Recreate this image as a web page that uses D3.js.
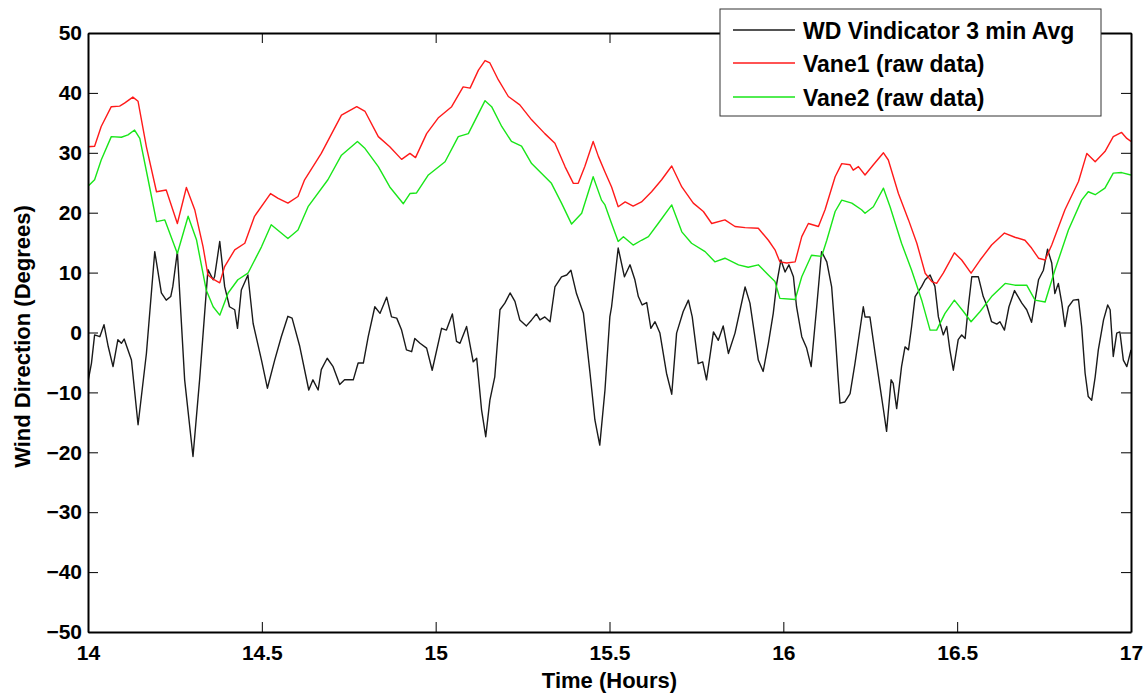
<!DOCTYPE html>
<html>
<head>
<meta charset="utf-8">
<script src="https://cdn.jsdelivr.net/npm/d3@7"></script>
<style>
  html, body { margin: 0; padding: 0; background: #fff; }
  svg { display: block; }
  text { font-family: "Liberation Sans", Arial, Helvetica, sans-serif; font-weight: bold; fill: #000; }
</style>
</head>
<body>
<svg id="chart" width="1146" height="694"></svg>
<script>
// ---------- data ----------
const xTicks = [14, 14.5, 15, 15.5, 16, 16.5, 17];
const xTickLabels = ["14", "14.5", "15", "15.5", "16", "16.5", "17"];
const yTicks = [50, 40, 30, 20, 10, 0, -10, -20, -30, -40, -50];
const yTickLabels = ["50", "40", "30", "20", "10", "0", "\u221210", "\u221220", "\u221230", "\u221240", "\u221250"];
const seriesNames = ["WD Vindicator 3 min Avg", "Vane1 (raw data)", "Vane2 (raw data)"];

// WD Vindicator 3 min Avg  [time (h), degrees]
const vindicator = [
[14.000,-8.2],[14.010,-5.1],[14.019,-0.4],[14.034,-0.7],[14.046,1.3],[14.058,-2.3],[14.072,-5.7],[14.086,-1.2],
[14.096,-1.8],[14.104,-1.1],[14.125,-4.6],[14.144,-15.4],[14.168,-3.5],[14.192,13.5],[14.211,6.6],[14.225,5.4],
[14.238,6.0],[14.244,7.7],[14.257,13.5],[14.278,-7.9],[14.302,-20.7],[14.321,-7.9],[14.345,10.5],[14.360,8.8],
[14.364,9.3],[14.379,15.2],[14.393,7.7],[14.407,4.3],[14.422,3.8],[14.430,0.7],[14.441,7.1],[14.460,9.6],
[14.475,1.5],[14.499,-4.6],[14.516,-9.3],[14.537,-4.6],[14.556,-0.7],[14.575,2.7],[14.587,2.4],[14.609,-2.3],
[14.635,-9.6],[14.647,-7.9],[14.662,-9.6],[14.671,-6.2],[14.688,-4.3],[14.705,-5.7],[14.724,-8.7],[14.738,-7.9],
[14.763,-7.9],[14.777,-5.1],[14.792,-5.1],[14.806,-0.7],[14.825,4.3],[14.840,3.2],[14.859,5.9],[14.873,2.6],
[14.888,2.4],[14.902,0.4],[14.916,-2.9],[14.931,-3.2],[14.940,-1.0],[14.955,-1.8],[14.974,-2.6],[14.990,-6.3],
[15.017,0.7],[15.031,0.4],[15.048,3.1],[15.060,-1.5],[15.070,-1.8],[15.089,1.0],[15.108,-4.9],[15.118,-4.3],
[15.132,-12.9],[15.144,-17.4],[15.156,-11.3],[15.170,-7.4],[15.185,3.8],[15.199,4.9],[15.214,6.6],[15.228,5.2],
[15.242,2.1],[15.261,1.1],[15.276,2.1],[15.290,3.1],[15.300,2.1],[15.314,2.6],[15.329,1.8],[15.343,7.6],
[15.362,9.3],[15.377,9.6],[15.389,10.4],[15.405,6.5],[15.425,3.2],[15.444,-6.8],[15.458,-14.6],[15.472,-18.8],
[15.487,-9.6],[15.501,2.6],[15.506,4.3],[15.525,14.1],[15.543,9.3],[15.559,11.3],[15.573,8.8],[15.583,6.0],
[15.594,4.6],[15.607,5.0],[15.619,0.7],[15.631,1.8],[15.645,-0.1],[15.664,-6.8],[15.679,-10.3],[15.693,-0.1],
[15.712,3.5],[15.727,5.4],[15.738,2.6],[15.755,-5.2],[15.768,-4.9],[15.779,-7.9],[15.799,0.1],[15.813,-1.3],
[15.827,1.1],[15.842,-3.5],[15.861,-0.1],[15.890,7.6],[15.904,4.9],[15.928,-4.6],[15.942,-6.5],[15.957,-1.8],
[15.971,3.2],[15.981,8.2],[15.993,12.1],[16.005,10.1],[16.016,11.3],[16.029,9.3],[16.038,4.3],[16.053,-0.7],
[16.067,-2.6],[16.080,-5.7],[16.096,4.3],[16.110,13.5],[16.125,11.8],[16.139,7.6],[16.149,-0.1],[16.158,-7.9],
[16.163,-11.8],[16.177,-11.6],[16.192,-10.2],[16.206,-5.2],[16.230,4.3],[16.235,2.6],[16.249,2.6],[16.264,-3.5],
[16.278,-9.0],[16.288,-12.9],[16.297,-16.5],[16.310,-7.9],[16.316,-8.5],[16.326,-12.7],[16.340,-5.7],[16.350,-2.4],
[16.360,-2.9],[16.369,1.0],[16.379,6.0],[16.398,7.7],[16.408,8.8],[16.422,9.6],[16.436,7.7],[16.446,2.6],
[16.460,-0.4],[16.470,1.0],[16.479,-2.9],[16.489,-6.3],[16.503,-1.2],[16.513,-0.4],[16.523,-1.0],[16.532,4.3],
[16.542,9.3],[16.561,9.3],[16.575,6.0],[16.585,4.6],[16.599,1.8],[16.614,1.4],[16.623,1.8],[16.636,0.4],
[16.649,4.3],[16.665,7.0],[16.686,4.9],[16.700,3.8],[16.714,1.7],[16.724,5.4],[16.734,8.8],[16.748,10.4],
[16.760,13.9],[16.772,11.6],[16.781,6.5],[16.791,8.2],[16.801,4.9],[16.810,1.0],[16.820,4.3],[16.834,5.4],
[16.849,5.5],[16.858,1.0],[16.868,-6.8],[16.877,-10.7],[16.887,-11.3],[16.897,-7.4],[16.906,-2.9],[16.921,2.1],
[16.933,4.6],[16.940,3.8],[16.949,-4.0],[16.959,-0.1],[16.968,0.1],[16.978,-4.6],[16.988,-5.7],[17.000,-2.9]
];

// Vane1 (raw data)
const vane1 = [
[14.000,31.0],[14.019,31.1],[14.038,34.4],[14.067,37.7],[14.091,37.8],[14.105,38.3],[14.129,39.3],[14.144,38.6],
[14.168,31.0],[14.197,23.5],[14.225,23.8],[14.257,18.2],[14.283,24.2],[14.307,20.5],[14.331,14.3],[14.345,9.6],
[14.360,8.9],[14.379,8.3],[14.393,11.0],[14.422,13.8],[14.451,14.9],[14.479,19.4],[14.525,23.2],[14.547,22.4],
[14.575,21.6],[14.604,22.7],[14.623,25.5],[14.671,29.9],[14.729,36.3],[14.773,37.7],[14.797,36.9],[14.835,32.7],
[14.868,31.0],[14.902,28.9],[14.926,29.9],[14.942,29.2],[14.974,33.2],[15.007,35.8],[15.046,37.7],[15.079,41.0],
[15.099,40.8],[15.123,43.8],[15.142,45.4],[15.156,45.0],[15.180,42.2],[15.209,39.4],[15.242,38.0],[15.276,35.5],
[15.314,33.2],[15.343,31.6],[15.372,27.7],[15.396,24.9],[15.410,24.9],[15.429,27.7],[15.453,31.9],[15.468,29.4],
[15.487,26.8],[15.506,24.3],[15.525,21.0],[15.545,21.8],[15.568,21.1],[15.592,21.8],[15.621,23.5],[15.650,25.5],
[15.679,27.8],[15.708,24.3],[15.741,21.6],[15.770,20.2],[15.794,18.2],[15.832,18.8],[15.861,17.7],[15.890,17.5],
[15.928,17.4],[15.957,15.4],[15.976,13.8],[15.990,11.8],[16.010,11.6],[16.034,11.8],[16.053,16.0],[16.072,18.2],
[16.101,17.7],[16.120,20.5],[16.149,26.0],[16.168,28.2],[16.192,28.0],[16.201,27.1],[16.216,27.7],[16.235,26.3],
[16.259,28.0],[16.288,30.0],[16.302,28.8],[16.331,23.2],[16.360,18.8],[16.384,14.9],[16.408,9.9],[16.427,8.5],
[16.441,8.2],[16.460,9.9],[16.492,13.3],[16.513,12.1],[16.540,9.9],[16.566,12.1],[16.599,14.6],[16.636,16.6],
[16.666,15.9],[16.695,15.4],[16.714,14.1],[16.734,12.4],[16.753,12.1],[16.772,14.6],[16.810,20.5],[16.849,25.2],
[16.873,29.9],[16.897,28.5],[16.925,30.2],[16.949,32.7],[16.973,33.4],[16.988,32.4],[17.000,31.9]
];

// Vane2 (raw data)
const vane2 = [
[14.000,24.4],[14.019,25.5],[14.038,28.8],[14.067,32.7],[14.096,32.6],[14.115,33.0],[14.134,33.8],[14.149,32.4],
[14.173,25.5],[14.197,18.5],[14.221,18.8],[14.257,13.2],[14.288,19.4],[14.312,15.5],[14.340,7.1],[14.360,4.3],
[14.379,2.9],[14.403,6.6],[14.431,8.8],[14.460,9.9],[14.499,14.3],[14.527,18.0],[14.575,15.7],[14.604,17.1],
[14.633,21.0],[14.690,25.5],[14.729,29.6],[14.775,31.9],[14.797,30.7],[14.835,27.7],[14.868,24.3],[14.907,21.5],
[14.926,23.2],[14.945,23.3],[14.979,26.3],[15.027,28.5],[15.065,32.7],[15.094,33.2],[15.142,38.7],[15.161,37.7],
[15.190,34.4],[15.218,31.9],[15.247,31.1],[15.276,28.2],[15.333,24.9],[15.362,21.6],[15.391,18.1],[15.420,19.9],
[15.453,26.0],[15.477,22.1],[15.487,21.3],[15.506,18.2],[15.525,15.2],[15.540,16.0],[15.568,14.6],[15.592,15.4],
[15.612,16.0],[15.640,18.2],[15.679,21.3],[15.708,16.8],[15.736,14.9],[15.775,13.5],[15.803,11.8],[15.832,12.4],
[15.871,11.3],[15.899,10.9],[15.928,11.3],[15.957,9.6],[15.976,8.5],[15.990,5.7],[16.034,5.5],[16.053,9.3],
[16.081,12.9],[16.110,12.7],[16.125,15.4],[16.149,20.2],[16.168,22.1],[16.197,21.6],[16.225,20.5],[16.235,19.9],
[16.259,21.0],[16.288,24.1],[16.307,21.0],[16.340,14.9],[16.369,10.4],[16.398,5.4],[16.422,0.4],[16.441,0.4],
[16.465,3.2],[16.492,5.4],[16.518,3.5],[16.540,1.8],[16.566,3.5],[16.599,6.0],[16.638,8.2],[16.666,7.9],
[16.700,7.9],[16.724,5.4],[16.753,5.1],[16.781,10.4],[16.820,17.1],[16.858,22.1],[16.877,23.5],[16.897,23.0],
[16.925,24.1],[16.949,26.6],[16.973,26.7],[17.000,26.3]
];

// ---------- layout ----------
const svg = d3.select("#chart");
const plot = { left: 88, right: 1131, top: 33, bottom: 632 };
const x = d3.scaleLinear().domain([14, 17]).range([plot.left, plot.right]);
const y = d3.scaleLinear().domain([-50, 50]).range([plot.bottom, plot.top]);
const colors = ["#1a1a1a", "#ff1a1a", "#19e619"];

svg.append("rect").attr("width", 1146).attr("height", 694).attr("fill", "#fff");

svg.append("defs").append("clipPath").attr("id", "clip")
  .append("rect").attr("x", plot.left).attr("y", plot.top)
  .attr("width", plot.right - plot.left).attr("height", plot.bottom - plot.top);

const line = d3.line().x(d => x(d[0])).y(d => y(d[1]));
const lines = svg.append("g").attr("clip-path", "url(#clip)");
[vindicator, vane1, vane2].forEach((data, i) => {
  lines.append("path").datum(data).attr("d", line)
    .attr("fill", "none").attr("stroke", colors[i])
    .attr("stroke-width", 1.4).attr("stroke-linejoin", "round");
});

// axes
const tickLen = 10;
function styleAxis(g) {
  g.select(".domain").attr("stroke", "#000").attr("stroke-width", 2);
  g.selectAll(".tick line").attr("stroke", "#000").attr("stroke-width", 1);
}
const xAxis = d3.axisBottom(x).tickValues(xTicks)
  .tickFormat((d, i) => xTickLabels[i]).tickSizeInner(-tickLen).tickSizeOuter(0).tickPadding(13);
const gx = svg.append("g").attr("transform", `translate(0,${plot.bottom})`).call(xAxis);
styleAxis(gx);
gx.selectAll("text").style("font-size", "21px").style("font-family", null);

const yAxis = d3.axisLeft(y).tickValues(yTicks)
  .tickFormat((d, i) => yTickLabels[i]).tickSizeInner(-tickLen).tickSizeOuter(0).tickPadding(6);
const gy = svg.append("g").attr("transform", `translate(${plot.left},0)`).call(yAxis);
styleAxis(gy);
gy.selectAll("text").style("font-size", "21px");

const gxt = svg.append("g").attr("transform", `translate(0,${plot.top})`)
  .call(d3.axisTop(x).tickValues(xTicks).tickFormat("").tickSizeInner(-tickLen).tickSizeOuter(0));
styleAxis(gxt);
const gyr = svg.append("g").attr("transform", `translate(${plot.right},0)`)
  .call(d3.axisRight(y).tickValues(yTicks).tickFormat("").tickSizeInner(-tickLen).tickSizeOuter(0));
styleAxis(gyr);
svg.selectAll(".tick text").attr("fill", "#000").attr("font-family", null).attr("font-size", null);

// axis titles
svg.append("text").attr("x", (plot.left + plot.right) / 2).attr("y", 688)
  .attr("text-anchor", "middle").style("font-size", "22px").text("Time (Hours)");
svg.append("text").attr("transform", `translate(30,${(plot.top + plot.bottom) / 2 + 4}) rotate(-90)`)
  .attr("text-anchor", "middle").style("font-size", "22px").text("Wind Direction (Degrees)");

// legend
const lg = svg.append("g");
lg.append("rect").attr("x", 720).attr("y", 9).attr("width", 381).attr("height", 107)
  .attr("fill", "#fff").attr("stroke", "#333").attr("stroke-width", 1);
const rowY = [30, 63, 97];
seriesNames.forEach((name, i) => {
  lg.append("line").attr("x1", 733).attr("x2", 795).attr("y1", rowY[i]).attr("y2", rowY[i])
    .attr("stroke", colors[i]).attr("stroke-width", 1.4);
  lg.append("text").attr("x", 803).attr("y", rowY[i] + 8.5).style("font-size", "23px").text(name);
});
</script>
</body>
</html>
